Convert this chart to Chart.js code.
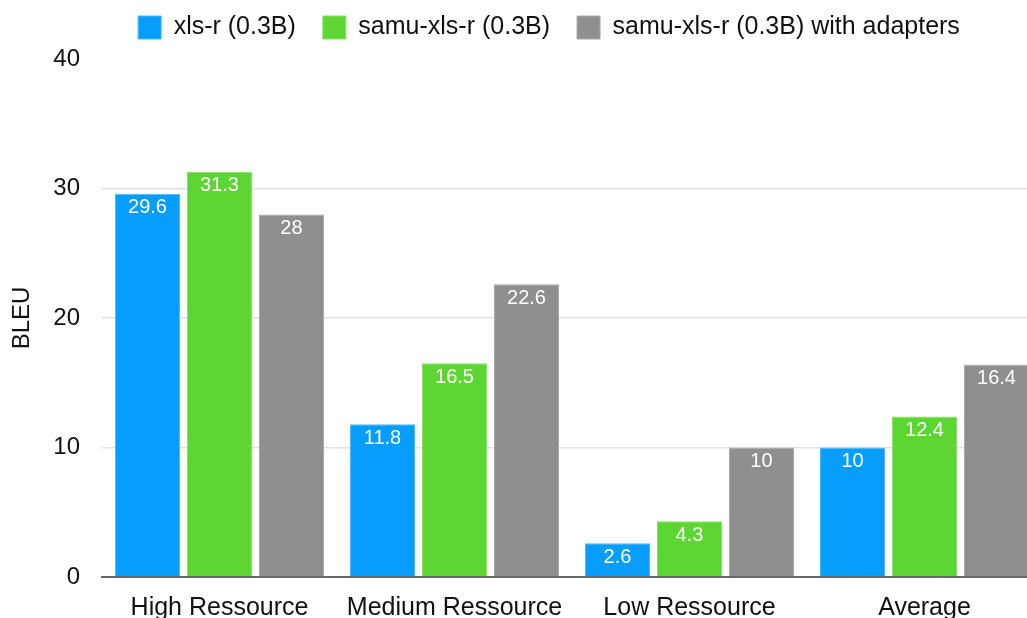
<!DOCTYPE html>
<html>
<head>
<meta charset="utf-8">
<script src="https://cdn.jsdelivr.net/npm/chart.js@4.4.0/dist/chart.umd.min.js"></script>
<style>
  html, body { margin: 0; padding: 0; background: #fff; overflow: hidden; }
  #wrap { position: absolute; left: 0; top: 0; width: 1100px; height: 640px; }
</style>
</head>
<body>
<div id="wrap"><canvas id="c" width="1100" height="640"></canvas></div>
<script>
const categories = ['High Ressource', 'Medium Ressource', 'Low Ressource', 'Average'];
const seriesNames = ['xls-r (0.3B)', 'samu-xls-r (0.3B)', 'samu-xls-r (0.3B) with adapters'];
const xlsr = [29.6, 11.8, 2.6, 10];
const samu = [31.3, 16.5, 4.3, 12.4];
const samuAdapters = [28, 22.6, 10, 16.4];
const yTicks = [0, 10, 20, 30, 40];

const FONT = 'Liberation Sans, Arial, Helvetica, sans-serif';

const valueLabels = {
  id: 'valueLabels',
  afterDatasetsDraw(chart) {
    const ctx = chart.ctx;
    ctx.save();
    ctx.font = '20px ' + FONT;
    ctx.fillStyle = '#ffffff';
    ctx.textAlign = 'center';
    ctx.textBaseline = 'middle';
    chart.data.datasets.forEach((ds, i) => {
      const meta = chart.getDatasetMeta(i);
      meta.data.forEach((bar, j) => {
        ctx.fillText(String(ds.data[j]), bar.x, bar.y + 14);
      });
    });
    ctx.restore();
  }
};

const legendTweak = {
  id: 'legendTweak',
  beforeLayout(chart) {
    const lg = chart.legend;
    if (lg && !lg._patched) {
      const fit = lg.fit;
      lg.fit = function () { fit.call(this); this.height = 71; };
      lg._patched = true;
    }
  },
  afterLayout(chart) {
    const lg = chart.legend;
    if (lg) { lg.left += 28; lg.right += 28; }
  }
};

new Chart(document.getElementById('c'), {
  type: 'bar',
  data: {
    labels: categories,
    datasets: [
      { label: seriesNames[0], data: xlsr, backgroundColor: '#069DFD', borderColor: '#4DB8FF', borderWidth: 1 },
      { label: seriesNames[1], data: samu, backgroundColor: '#5DD634', borderColor: '#86E266', borderWidth: 1 },
      { label: seriesNames[2], data: samuAdapters, backgroundColor: '#8F8F8F', borderColor: '#A8A8A8', borderWidth: 1 }
    ]
  },
  options: {
    responsive: false,
    devicePixelRatio: 1,
    animation: false,
    events: [],
    layout: { padding: { left: 0, right: 58, top: -12, bottom: 0 } },
    datasets: { bar: { categoryPercentage: 0.9191, barPercentage: 0.9028 } },
    plugins: {
      legend: {
        position: 'top',
        labels: {
          boxWidth: 23, boxHeight: 23, padding: 27,
          color: '#111', font: { family: FONT, size: 25 }
        }
      },
      tooltip: { enabled: false }
    },
    scales: {
      x: {
        grid: { display: false },
        border: { display: true, color: '#666666', width: 2 },
        ticks: { color: '#111', padding: 8, font: { family: FONT, size: 25 }, maxRotation: 0 },
        afterFit(s) { s.height = 63; }
      },
      y: {
        min: 0, max: 40,
        afterBuildTicks(s) { s.ticks = yTicks.map(v => ({ value: v })); },
        grid: {
          drawTicks: false,
          lineWidth: 1.5,
          color: c => (c.tick && (c.tick.value === 0 || c.tick.value === 40)) ? 'rgba(0,0,0,0)' : '#E2E2E2'
        },
        border: { display: false },
        ticks: { color: '#111', padding: 22, font: { family: FONT, size: 24 } },
        title: { display: true, text: 'BLEU', color: '#111', font: { family: FONT, size: 24 }, padding: { top: 8, bottom: 0 } },
        afterFit(s) { s.width = 102; }
      }
    }
  },
  plugins: [valueLabels, legendTweak]
});
</script>
</body>
</html>
